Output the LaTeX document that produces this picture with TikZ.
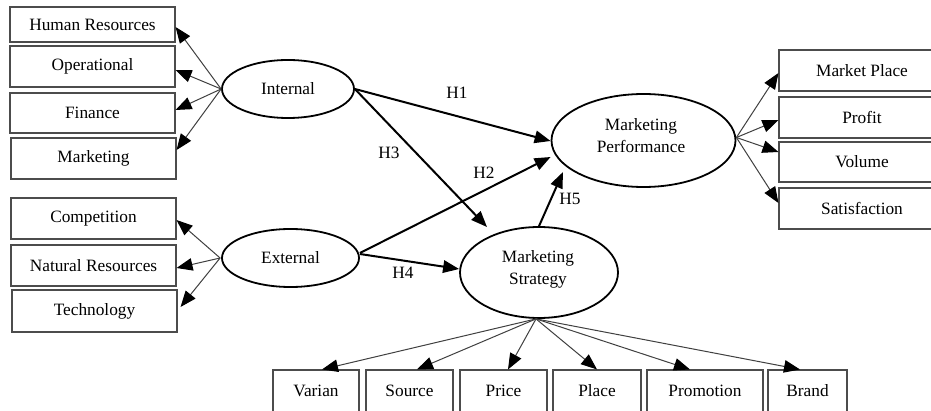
\documentclass[tikz,border=0pt]{standalone}
\usepackage{fontspec}
\setmainfont{Liberation Serif}
\usetikzlibrary{arrows.meta,shapes.geometric}
\begin{document}
\begin{tikzpicture}[x=1pt,y=-1pt,
  box/.style={draw=black!70,line width=1.1pt,rectangle,inner sep=0pt,font=\fontsize{17.3}{20}\selectfont},
  latent/.style={draw=black,line width=1.8pt,ellipse,inner sep=0pt,align=center,font=\fontsize{17.3}{22}\selectfont},
  ltext/.style={align=center,inner sep=0pt,font=\fontsize{17.3}{22}\selectfont},
  fan/.style={draw=black!75,line width=1pt,-{Triangle[length=16pt,width=12.5pt,color=black]}},
  hyp/.style={draw=black,line width=2pt,-{Triangle[length=16pt,width=12.5pt]}},
  hlab/.style={font=\fontsize{17.3}{20}\selectfont,inner sep=0pt}]
\clip (0,0) rectangle (931,411);
\fill[white] (0,0) rectangle (931,411);
% left boxes
\node[box,minimum width=165pt,minimum height=35pt] (hr) at (92.5,24.5) {Human Resources};
\node[box,minimum width=165pt,minimum height=41pt] (op) at (92.5,66.5) {Operational};
\node[box,minimum width=165pt,minimum height=40pt] (fin) at (92.5,113) {Finance};
\node[box,minimum width=165pt,minimum height=41pt] (mkt) at (93.5,158.5) {Marketing};
\node[box,minimum width=165pt,minimum height=41pt] (comp) at (93.5,218.5) {Competition};
\node[box,minimum width=165pt,minimum height=41pt] (nat) at (93.5,265.5) {Natural Resources};
\node[box,minimum width=165pt,minimum height=42pt] (tech) at (94.5,311) {Technology};
% right boxes
\node[box,minimum width=166pt,minimum height=41pt] (mplace) at (862,70.5) {Market Place};
\node[box,minimum width=166pt,minimum height=41pt] (profit) at (862,117.5) {Profit};
\node[box,minimum width=166pt,minimum height=40pt] (vol) at (862,162) {Volume};
\node[box,minimum width=166pt,minimum height=41pt] (sat) at (862,208.5) {Satisfaction};
% bottom boxes
\node[box,minimum width=86pt,minimum height=42pt] (var) at (316,391) {Varian};
\node[box,minimum width=87pt,minimum height=42pt] (src) at (409.5,391) {Source};
\node[box,minimum width=87pt,minimum height=42pt] (price) at (503.5,391) {Price};
\node[box,minimum width=88pt,minimum height=42pt] (place) at (597,391) {Place};
\node[box,minimum width=116pt,minimum height=42pt] (promo) at (705,391) {Promotion};
\node[box,minimum width=79pt,minimum height=42pt] (brand) at (807.5,391) {Brand};
% latent ellipses
\node[latent,minimum width=132pt,minimum height=58pt] (int) at (288,89) {Internal};
\node[latent,minimum width=137pt,minimum height=58pt] (ext) at (290.5,258) {External};
\node[latent,minimum width=184pt,minimum height=93pt] (mp) at (643.5,140.5) {};
\node[ltext] (mptext) at (641,136) {Marketing\\Performance};
\node[latent,minimum width=158pt,minimum height=91pt] (ms) at (539,272.5) {};
\node[ltext] (mstext) at (538,269) {Marketing\\Strategy};
% fans
\draw[fan] (int.west) -- ([yshift=-2.5pt]hr.east);
\draw[fan] (int.west) -- ([yshift=-3.5pt]op.east);
\draw[fan] (int.west) -- ([yshift=3pt]fin.east);
\draw[fan] (int.west) -- ([yshift=8.5pt]mkt.east);
\draw[fan] ([xshift=-1pt]ext.west) -- ([yshift=-1.5pt]comp.east);
\draw[fan] ([xshift=-1pt]ext.west) -- ([yshift=-2.5pt]nat.east);
\draw[fan] ([xshift=-1pt]ext.west) -- ([xshift=3pt,yshift=4pt]tech.east);
\draw[fan] ([yshift=3pt]mp.east) -- ([yshift=-2.5pt]mplace.west);
\draw[fan] ([yshift=3pt]mp.east) -- ([yshift=-2.5pt]profit.west);
\draw[fan] ([yshift=3pt]mp.east) -- ([yshift=10pt]vol.west);
\draw[fan] ([yshift=3pt]mp.east) -- ([yshift=5.5pt]sat.west);
\draw[fan] ([xshift=-3pt]ms.south) -- ([xshift=6pt]var.north);
\draw[fan] ([xshift=-3pt]ms.south) -- ([xshift=7.5pt]src.north);
\draw[fan] ([xshift=-3pt]ms.south) -- ([xshift=4.5pt]price.north);
\draw[fan] ([xshift=-3pt]ms.south) -- (place.north);
\draw[fan] ([xshift=-3pt]ms.south) -- ([xshift=-15pt]promo.north);
\draw[fan] ([xshift=-3pt]ms.south) -- ([xshift=-7.5pt]brand.north);
% hypotheses
\draw[hyp] (int.east) -- ([yshift=-0.5pt]mp.west);
\draw[hyp] (int.east) -- ([xshift=-52pt,yshift=45.5pt]ms.center);
\draw[hyp] ([yshift=5pt]ext.east) -- ([yshift=-16.5pt]mp.west);
\draw[hyp] ([yshift=4pt]ext.east) -- ([yshift=3.5pt]ms.west);
\draw[hyp] (ms.north) -- ([xshift=-80.5pt,yshift=-31.5pt]mp.center);
\node[hlab] (h1) at (457,93) {H1};
\node[hlab] (h2) at (484,173) {H2};
\node[hlab] (h3) at (389,153) {H3};
\node[hlab] (h4) at (403,273) {H4};
\node[hlab] (h5) at (570,199) {H5};
\end{tikzpicture}
\end{document}
